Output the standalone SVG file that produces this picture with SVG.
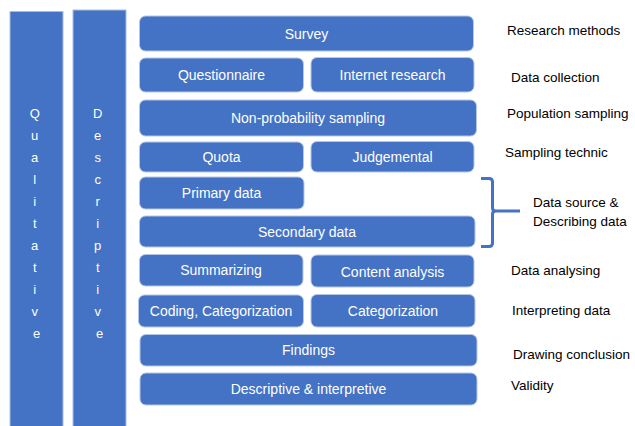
<svg xmlns="http://www.w3.org/2000/svg" width="635" height="426" viewBox="0 0 635 426">
  <style>
    .bar { fill: #4472C4; stroke: #A9BDE3; stroke-width: 1; }
    .box { fill: #4472C4; stroke: #B4C7E7; stroke-width: 1; }
    .bt { font-family: "Liberation Sans", Arial, sans-serif; font-size: 14px; fill: #FFFFFF; text-anchor: middle; }
    .vt { font-family: "Liberation Sans", Arial, sans-serif; font-size: 13px; fill: #FFFFFF; text-anchor: middle; }
    .lbl { font-family: "Liberation Sans", Arial, sans-serif; font-size: 13.5px; fill: #000000; }
    .brace { fill: none; stroke: #4472C4; stroke-width: 3; }
  </style>

  <rect width="635" height="426" fill="#FFFFFF"/>

  <!-- vertical side bars -->
  <g id="qualitative">
    <rect class="bar" x="10" y="11.5" width="53" height="420"/>
    <text class="vt">
      <tspan x="36.5" y="118">Q</tspan>
      <tspan x="36.5" y="140">u</tspan>
      <tspan x="36.5" y="162">a</tspan>
      <tspan x="36.5" y="184">l</tspan>
      <tspan x="36.5" y="206">i</tspan>
      <tspan x="36.5" y="228">t</tspan>
      <tspan x="36.5" y="250">a</tspan>
      <tspan x="36.5" y="272">t</tspan>
      <tspan x="36.5" y="294">i</tspan>
      <tspan x="36.5" y="316">v</tspan>
      <tspan x="36.5" y="338">e</tspan>
    </text>
  </g>
  <g id="descriptive">
    <rect class="bar" x="73" y="10" width="53" height="420"/>
    <text class="vt">
      <tspan x="99.5" y="118">D</tspan>
      <tspan x="99.5" y="140">e</tspan>
      <tspan x="99.5" y="162">s</tspan>
      <tspan x="99.5" y="184">c</tspan>
      <tspan x="99.5" y="206">r</tspan>
      <tspan x="99.5" y="228">i</tspan>
      <tspan x="99.5" y="250">p</tspan>
      <tspan x="99.5" y="272">t</tspan>
      <tspan x="99.5" y="294">i</tspan>
      <tspan x="99.5" y="316">v</tspan>
      <tspan x="99.5" y="338">e</tspan>
    </text>
  </g>

  <!-- step boxes -->
  <g id="survey">
    <rect class="box" x="139.5" y="16" width="334" height="35" rx="6"/>
    <text class="bt" x="306.5" y="38.5">Survey</text>
  </g>
  <g id="questionnaire">
    <rect class="box" x="139.5" y="58" width="164" height="34" rx="6"/>
    <text class="bt" x="221.5" y="80">Questionnaire</text>
  </g>
  <g id="internet-research">
    <rect class="box" x="311" y="57.5" width="163" height="34.5" rx="6"/>
    <text class="bt" x="392.5" y="79.5">Internet research</text>
  </g>
  <g id="non-probability-sampling">
    <rect class="box" x="139.5" y="100" width="337" height="36" rx="6"/>
    <text class="bt" x="308" y="123">Non-probability sampling</text>
  </g>
  <g id="quota">
    <rect class="box" x="139.5" y="142" width="164" height="30" rx="6"/>
    <text class="bt" x="221.5" y="162">Quota</text>
  </g>
  <g id="judgemental">
    <rect class="box" x="311" y="141.5" width="163" height="30.5" rx="6"/>
    <text class="bt" x="392.5" y="162">Judgemental</text>
  </g>
  <g id="primary-data">
    <rect class="box" x="139.5" y="177" width="164.5" height="32" rx="6"/>
    <text class="bt" x="221.5" y="198">Primary data</text>
  </g>
  <g id="secondary-data">
    <rect class="box" x="139.5" y="216" width="335.5" height="31" rx="6"/>
    <text class="bt" x="307" y="236.5">Secondary data</text>
  </g>
  <g id="summarizing">
    <rect class="box" x="139.5" y="254.5" width="163.5" height="31.5" rx="6"/>
    <text class="bt" x="221" y="275">Summarizing</text>
  </g>
  <g id="content-analysis">
    <rect class="box" x="311" y="255" width="163" height="32" rx="6"/>
    <text class="bt" x="392.5" y="276.5">Content analysis</text>
  </g>
  <g id="coding-categorization">
    <rect class="box" x="138.5" y="295" width="165" height="32" rx="6"/>
    <text class="bt" x="221" y="316">Coding, Categorization</text>
  </g>
  <g id="categorization">
    <rect class="box" x="311" y="294.5" width="164" height="32.5" rx="6"/>
    <text class="bt" x="393" y="316">Categorization</text>
  </g>
  <g id="findings">
    <rect class="box" x="140" y="334.5" width="337" height="31.5" rx="6"/>
    <text class="bt" x="308.5" y="355">Findings</text>
  </g>
  <g id="descriptive-interpretive">
    <rect class="box" x="140" y="373" width="337" height="32" rx="6"/>
    <text class="bt" x="308.5" y="394">Descriptive &amp; interpretive</text>
  </g>

  <!-- brace grouping the data source rows -->
  <g id="connectors">
    <path class="brace" d="M481,178.5 H489 Q492.5,178.5 492.5,182 V208 Q492.5,211 496,211 H520 M496,211 Q492.5,211 492.5,214 V243 Q492.5,246.5 489,246.5 H481"/>
  </g>

  <!-- stage labels -->
  <g id="labels">
    <text class="lbl" x="507" y="35">Research methods</text>
    <text class="lbl" x="511" y="82">Data collection</text>
    <text class="lbl" x="507" y="118">Population sampling</text>
    <text class="lbl" x="505" y="157">Sampling technic</text>
    <text class="lbl" x="533" y="207">Data source &amp;</text>
    <text class="lbl" x="533" y="226">Describing data</text>
    <text class="lbl" x="511" y="275">Data analysing</text>
    <text class="lbl" x="512" y="315">Interpreting data</text>
    <text class="lbl" x="513" y="359">Drawing conclusion</text>
    <text class="lbl" x="511" y="390">Validity</text>
  </g>
</svg>
